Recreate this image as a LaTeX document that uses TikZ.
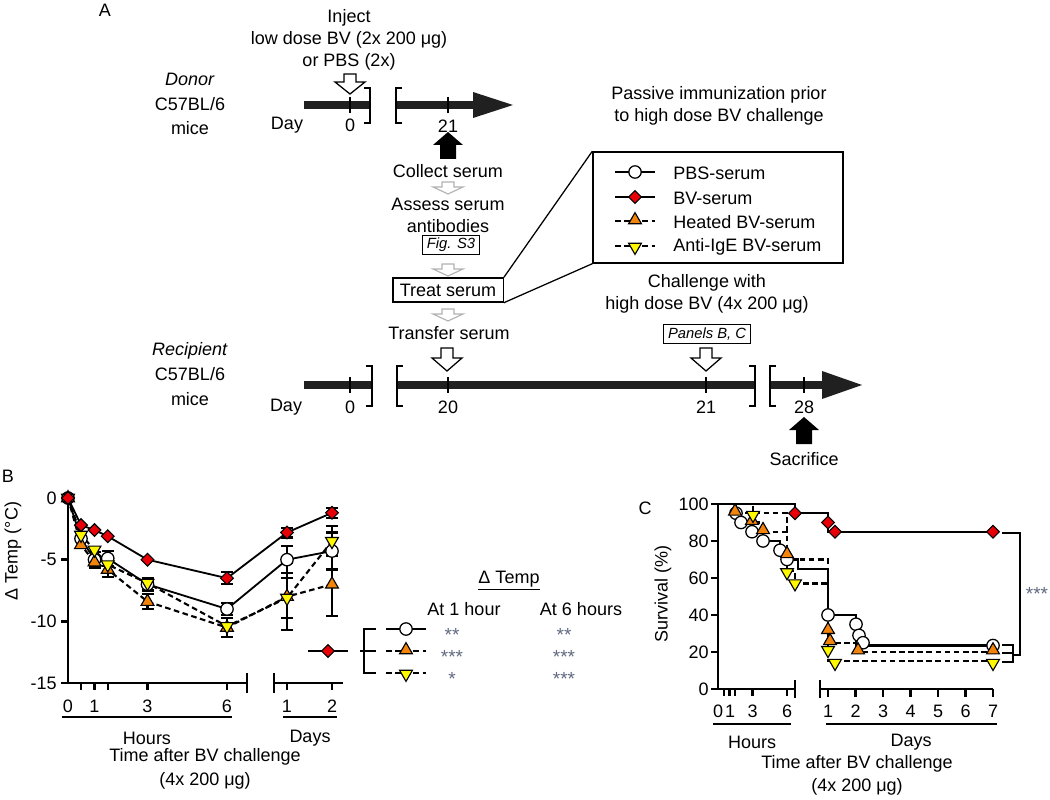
\documentclass[tikz,border=0pt]{standalone}
\usepackage{fontspec}
\setmainfont{Liberation Sans}
\usetikzlibrary{shapes.geometric}

\definecolor{bvred}{RGB}{232,0,8}
\definecolor{heatorange}{RGB}{242,132,12}
\definecolor{igeyellow}{RGB}{255,248,0}
\definecolor{stargray}{RGB}{95,105,128}
\definecolor{bargray}{RGB}{32,32,32}

\tikzset{
  lbl/.style={inner sep=0pt, align=center},
  boxlbl/.style={draw, line width=0.9pt, inner xsep=3pt, inner ysep=0pt, minimum height=0.49cm, font=\fontsize{10.5}{12}\selectfont\itshape},
  pbsmark/.style={circle, draw, fill=white, line width=0.9pt, inner sep=0pt, minimum size=0.31cm},
  bvmark/.style={diamond, draw, fill=bvred, line width=0.8pt, inner sep=0pt, minimum size=0.33cm},
  heatmark/.style={regular polygon, regular polygon sides=3, draw, fill=heatorange, line width=0.8pt, inner sep=0pt, minimum size=0.37cm},
  igemark/.style={regular polygon, regular polygon sides=3, shape border rotate=180, draw, fill=igeyellow, line width=0.8pt, inner sep=0pt, minimum size=0.37cm},
  timebar/.style={bargray, line width=6pt},
  daytick/.style={line width=1.3pt},
  bracket/.style={line width=1.4pt},
  axisline/.style={line width=1.8pt},
  solidcurve/.style={line width=1.3pt},
  dashcurve/.style={line width=1.5pt, dash pattern=on 4pt off 2.5pt},
  errbar/.style={line width=1.5pt},
  stars/.style={text=stargray, inner sep=0pt, font=\fontsize{13.5}{14}\selectfont}
}

% open block arrow pointing down: x, tip y, shaft, head, style
\newcommand{\downblock}[5]{%
  \filldraw[#5] (#1-6,#2-#3-#4) -- (#1+6,#2-#3-#4) -- (#1+6,#2-#4)
    -- (#1+15,#2-#4) -- (#1,#2) -- (#1-15,#2-#4) -- (#1-6,#2-#4) -- cycle;}
% solid block arrow pointing up: x, tip y
\newcommand{\upblock}[2]{%
  \fill (#1,#2) -- (#1+15,#2+13) -- (#1+8,#2+13) -- (#1+8,#2+27)
    -- (#1-8,#2+27) -- (#1-8,#2+13) -- (#1-15,#2+13) -- cycle;}

% panel B data: x (px) / value
\def\bvB{68/0,81/-2.2,94.5/-2.6,107.75/-3.1,147.5/-5.0,227/-6.5,287/-2.8,332/-1.2}
\def\pbsB{68/0,81/-3.3,94.5/-5.0,107.75/-4.9,147.5/-7.0,227/-9.0,287/-5.0,332/-4.3}
\def\heatB{68/0,81/-3.8,94.5/-5.2,107.75/-5.8,147.5/-8.4,227/-10.5,287/-8.0,332/-7.0}
\def\igeB{68/0,81/-3.0,94.5/-4.2,107.75/-5.4,147.5/-6.9,227/-10.4,287/-8.1,332/-3.5}

\begin{document}
\begin{tikzpicture}[x=0.025cm, y=-0.025cm, font=\fontsize{12.8}{15.6}\selectfont]
\useasboundingbox (0,0) rectangle (1050,800);

% ---------- A: donor ----------
\node[lbl] (labA) at (105,10) {A};
\node[lbl] (donor) at (190,104) {\textit{Donor}\\[2pt]C57BL/6\\[2pt]mice};
\node[lbl] (inject) at (349,40) {Inject\\low dose BV (2x 200 μg)\\or PBS (2x)};
\draw[timebar] (304,105) -- (370,105);
\draw[timebar] (396,105) -- (476,105);
\fill[bargray] (473,92) -- (513,105) -- (473,118) -- cycle;
\draw[daytick] (350,97) -- (350,113);
\draw[daytick] (448,97) -- (448,113);
\draw[bracket] (364,88) -- (370,88) -- (370,123) -- (364,123);
\draw[bracket] (402,88) -- (396,88) -- (396,123) -- (402,123);
\node[lbl] (dday) at (287,125) {Day};
\node[lbl] (dzero) at (350,125) {0};
\node[lbl] (dtwentyone) at (448,126) {21};
\downblock{350}{94}{8}{12}{draw=black, fill=white, line width=0.9pt}
\upblock{448}{132}

% serum steps
\node[lbl] (collect) at (448,171) {Collect serum};
\downblock{448}{194}{5}{7}{draw=gray!60, fill=white, line width=0.8pt}
\node[lbl] (assess) at (448,215) {Assess serum\\antibodies};
\node[boxlbl] (figsthree) at (451,245) {Fig. S3};
\downblock{448}{276}{5}{7}{draw=gray!60, fill=white, line width=0.8pt}
\node[draw, line width=1pt, minimum height=0.6cm, inner xsep=5pt, inner ysep=0pt] (treat) at (448,290) {Treat serum};
\downblock{448}{321}{5}{7}{draw=gray!60, fill=white, line width=0.8pt}
\node[lbl] (transfer) at (449,333) {Transfer serum};

% legend of the groups
\node[lbl] (passive) at (719,106) {Passive immunization prior\\to high dose BV challenge};
\node[draw, line width=1pt, minimum width=6.25cm, minimum height=2.775cm, inner sep=0pt] (legend) at (718,207.5) {};
\draw[line width=0.9pt] (treat.north east) -- (legend.north west);
\draw[line width=0.9pt] (treat.south east) -- (legend.south west);
\draw[line width=1.6pt] (615,172) -- (655,172);
\node[pbsmark] (legpbs) at (635,172) {};
\node[lbl, anchor=west] (legpbstxt) at (673,173) {PBS-serum};
\draw[line width=1.6pt] (615,197) -- (655,197);
\node[bvmark] (legbv) at (635,197) {};
\node[lbl, anchor=west] (legbvtxt) at (673,198) {BV-serum};
\draw[dashcurve] (615,221) -- (655,221);
\node[heatmark] (legheat) at (635,220) {};
\node[lbl, anchor=west] (legheattxt) at (673,222) {Heated BV-serum};
\draw[dashcurve] (615,246) -- (655,246);
\node[igemark] (legige) at (635,247) {};
\node[lbl, anchor=west] (legigetxt) at (673,247) {Anti-IgE BV-serum};

% ---------- A: recipient ----------
\node[lbl] (recip) at (190,374) {\textit{Recipient}\\[2pt]C57BL/6\\[2pt]mice};
\node[lbl] (challenge) at (707,294) {Challenge with\\high dose BV (4x 200 μg)};
\node[boxlbl] (panelsbc) at (707,334) {Panels B, C};
\downblock{447}{371}{10}{13}{draw=black, fill=white, line width=0.9pt}
\downblock{706}{371}{10}{13}{draw=black, fill=white, line width=0.9pt}
\draw[timebar] (304,385) -- (372,385);
\draw[timebar] (397,385) -- (755,385);
\draw[timebar] (770,385) -- (825,385);
\fill[bargray] (822,371) -- (862,385) -- (822,399) -- cycle;
\foreach \t in {350,448,706,804} {\draw[daytick] (\t,377) -- (\t,393);}
\draw[bracket] (366,366) -- (372,366) -- (372,406) -- (366,406);
\draw[bracket] (403,366) -- (397,366) -- (397,406) -- (403,406);
\draw[bracket] (749,366) -- (755,366) -- (755,406) -- (749,406);
\draw[bracket] (776,366) -- (770,366) -- (770,406) -- (776,406);
\node[lbl] (rday) at (286,407) {Day};
\node[lbl] (rzero) at (350,407) {0};
\node[lbl] (rtwenty) at (448,407) {20};
\node[lbl] (rtwentyone) at (706,407) {21};
\node[lbl] (rtwentyeight) at (804,407) {28};
\upblock{804}{417}
\node[lbl] (sacrifice) at (804,459) {Sacrifice};

% ---------- B: temperature ----------
\node[lbl] (labB) at (8,476) {B};
\node[lbl, rotate=90] (ylabB) at (13,551) {Δ Temp (°C)};
\draw[axisline] (68,496) -- (68,683) -- (247,683);
\draw[axisline] (247,673) -- (247,693);
\draw[axisline] (274,673) -- (274,693);
\draw[axisline] (274,683) -- (343,683);
\foreach \t in {81,94.5,107.75,147.5,227,287,332} {\draw[line width=1.5pt] (\t,683) -- (\t,690);}
\foreach \t/\s [count=\i] in {68/0,94.5/1,147.5/3,227/6,287/1,332/2} {\node[lbl] (xtickB\i) at (\t,706) {\s};}
\draw[line width=1.3pt] (62,717) -- (232,717);
\draw[line width=1.3pt] (283,717) -- (337,717);
\node[lbl] (hoursB) at (147,738) {Hours};
\node[lbl] (daysB) at (310,738) {Days};
\node[lbl] (timeB) at (205,757) {Time after BV challenge};
\node[lbl] (doseB) at (205,781) {(4x 200 μg)};
\begin{scope}[shift={(0,498)}, y=0.3083cm]
  \foreach \v [count=\i] in {0,-5,-10,-15} {
    \draw[axisline] (61,\v) -- (68,\v);
    \node[lbl, anchor=east] (ytickB\i) at (57,\v) {\v};
  }
  \foreach \x/\m/\s in {94.5/-5.0/0.6, 94.5/-5.2/0.5, 107.75/-4.9/0.6, 107.75/-5.8/0.6,
      147.5/-7.0/0.5, 147.5/-8.4/0.6, 227/-6.5/0.5, 227/-9.0/0.5, 227/-10.5/0.8,
      287/-2.8/0.4, 287/-5.0/1.1, 287/-8.0/2.7, 287/-8.1/1.6,
      332/-1.2/0.4, 332/-4.3/1.5, 332/-7.0/2.6, 332/-3.5/1.2} {
    \draw[errbar] (\x,\m-\s) -- (\x,\m+\s) (\x-6,\m-\s) -- (\x+6,\m-\s) (\x-6,\m+\s) -- (\x+6,\m+\s);
  }
  \draw[dashcurve] (68,0) \foreach \x/\y in \igeB {-- (\x,\y)};
  \draw[dashcurve] (68,0) \foreach \x/\y in \heatB {-- (\x,\y)};
  \draw[solidcurve] (68,0) \foreach \x/\y in \pbsB {-- (\x,\y)};
  \draw[solidcurve] (68,0) \foreach \x/\y in \bvB {-- (\x,\y)};
  \foreach \x/\y [count=\i] in \pbsB {\node[pbsmark] (pbsB\i) at (\x,\y) {};}
  \foreach \x/\y [count=\i] in \heatB {\node[heatmark] (heatB\i) at (\x,\y) {};}
  \foreach \x/\y [count=\i] in \igeB {\node[igemark] (igeB\i) at (\x,\y) {};}
  \foreach \x/\y [count=\i] in \bvB {\node[bvmark] (bvB\i) at (\x,\y) {};}
\end{scope}

% significance of temperature drop
\node[lbl] (dtemp) at (509,581) {\underline{Δ Temp}};
\node[lbl] (athour) at (464,609) {At 1 hour};
\node[lbl] (atsix) at (581,609) {At 6 hours};
\draw[line width=1.6pt] (308,651) -- (348,651);
\node[bvmark] (refbv) at (328,651) {};
\draw[bracket] (376,629) -- (364,629) -- (364,673) -- (376,673);
\draw[bracket] (360,651) -- (376,651);
\draw[line width=1.6pt] (386,629) -- (426,629);
\node[pbsmark] (sigpbs) at (406,629) {};
\draw[dashcurve] (386,651) -- (426,651);
\node[heatmark] (sigheat) at (406,650) {};
\draw[dashcurve] (386,673) -- (426,673);
\node[igemark] (sigige) at (406,674) {};
\node[stars] (hpbs) at (452,635) {**};
\node[stars] (hheat) at (452,657) {***};
\node[stars] (hige) at (452,679) {*};
\node[stars] (spbs) at (564,635) {**};
\node[stars] (sheat) at (564,657) {***};
\node[stars] (sige) at (564,679) {***};

% ---------- C: survival ----------
\node[lbl] (labC) at (645,508) {C};
\node[lbl, rotate=90] (ylabC) at (663,594) {Survival (\%)};
\draw[axisline] (718,503) -- (718,689) -- (795,689);
\draw[axisline] (795,680) -- (795,698);
\draw[axisline] (820,680) -- (820,698);
\draw[axisline] (820,689) -- (993,689);
\foreach \t in {723.75,729.5,735.25,752.5,787} {\draw[line width=1.5pt] (\t,689) -- (\t,696);}
\foreach \d in {0,...,6} {\draw[line width=1.5pt] (828+27.5*\d,689) -- (828+27.5*\d,697);}
\foreach \v [count=\i] in {0,20,40,60,80,100} {
  \draw[axisline] (711,689-1.85*\v) -- (718,689-1.85*\v);
  \node[lbl, anchor=east] (ytickC\i) at (709,689-1.85*\v) {\v};
}
\foreach \t/\s [count=\i] in {718/0,730/1,752.5/3,787/6} {\node[lbl] (htickC\i) at (\t,711) {\s};}
\foreach \d in {1,...,7} {\node[lbl] (dtickC\d) at (828+27.5*\d-27.5,711) {\d};}
\draw[line width=1.3pt] (713,724) -- (791,724);
\draw[line width=1.3pt] (826,724) -- (997,724);
\node[lbl] (hoursC) at (752,742) {Hours};
\node[lbl] (daysC) at (911,742) {Days};
\node[lbl] (timeC) at (857,764) {Time after BV challenge};
\node[lbl] (doseC) at (857,787) {(4x 200 μg)};
\begin{scope}[shift={(0,689)}, y=0.04625cm]
  \draw[dashcurve] (718,100) -| (753,95) -| (787,64) -| (795,57) -| (828,15) -- (993,15);
  \draw[dashcurve] (718,100) -| (735,95) -| (752,90) -| (763,85) -| (787,70) -| (828,25) -| (856,20) -- (993,20);
  \draw[solidcurve, line width=1.6pt] (718,100) -| (736,95) -| (741,90) -| (752,85) -| (763,80) -| (780,75)
     -| (787,70) -| (798,65) -| (828,40) -| (856,23.5) -- (993,23.5);
  \draw[solidcurve, line width=1.6pt] (718,100) -| (795,95) -| (828,85) -- (993,85);
  \foreach \x/\y [count=\i] in {736/95,741/90,752/85,763/80,780/75,787/70,828/40,856/35,859/29,863/25,993/23.5}
    {\node[pbsmark] (pbsC\i) at (\x,\y) {};}
  \foreach \x/\y [count=\i] in {735/96,752/91,763/86,787/73,828/32,830/26,858/21,993/21}
    {\node[heatmark] (heatC\i) at (\x,\y) {};}
  \foreach \x/\y [count=\i] in {753/94,787/63,795/57,828/21,835/14,993/14}
    {\node[igemark] (igeC\i) at (\x,\y) {};}
  \foreach \x/\y [count=\i] in {795/95,828/90,835/85,993/85}
    {\node[bvmark] (bvC\i) at (\x,\y) {};}
\end{scope}
\draw[line width=0.9pt] (1002,533) -- (1020,533) -- (1020,655) -- (1013,655);
\draw[line width=0.9pt] (1002,645) -- (1013,645) -- (1013,662) -- (1002,662);
\draw[line width=0.9pt] (1002,653) -- (1013,653);
\node[stars] (survstars) at (1037,594) {***};
\end{tikzpicture}
\end{document}
